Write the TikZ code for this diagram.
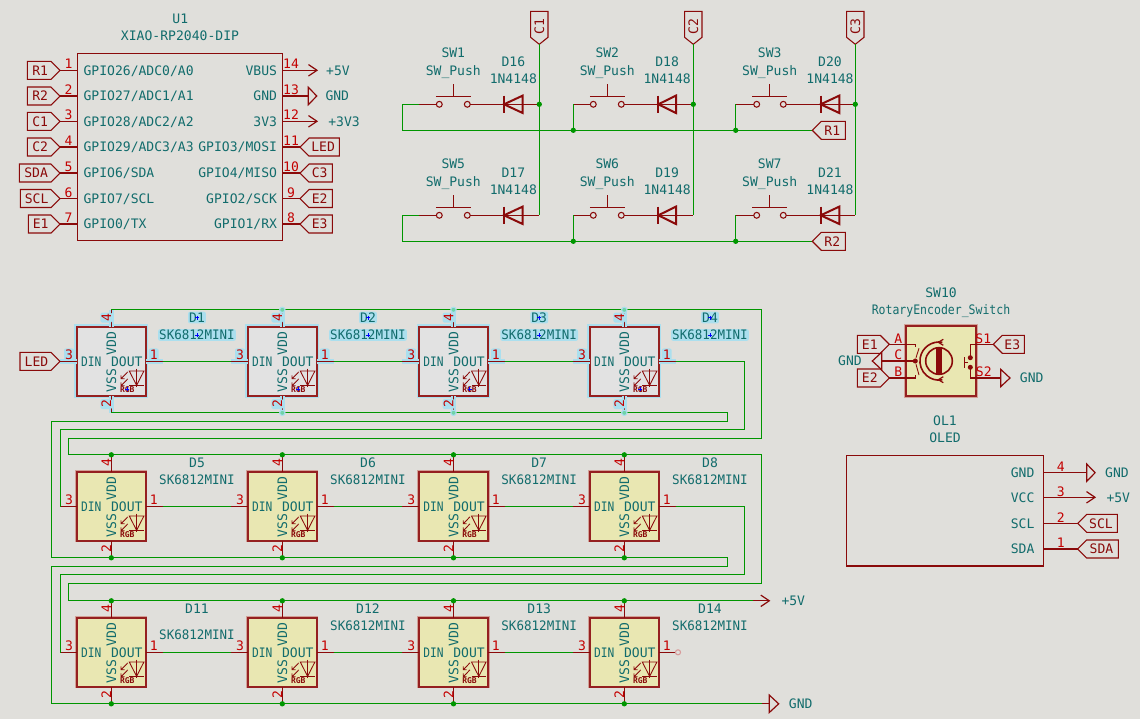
\documentclass[tikz,border=0pt]{standalone}
\usepackage{fontspec}
\setmainfont{DejaVu Sans Mono}
\usetikzlibrary{calc}
\definecolor{bgc}{HTML}{E0DFDB}
\definecolor{pinc}{HTML}{8A0A0A}
\definecolor{boxc}{HTML}{952020}
\definecolor{numc}{HTML}{C40000}
\definecolor{wirec}{HTML}{009600}
\definecolor{tealc}{HTML}{126C6C}
\definecolor{chipc}{HTML}{E9E7B2}
\definecolor{haloc}{HTML}{D2A096}
\definecolor{glowc}{HTML}{ABDFEE}
\definecolor{selc}{HTML}{E2E2E2}
\definecolor{seljc}{HTML}{6FD3A8}
\definecolor{openc}{HTML}{D89A9A}

\newcommand{\flagright}[4]{
	\draw[flag] (#2) -- ++(-9,-9) -- ++({9-#3},0) -- ++(0,18) -- ++({#3-9},0) -- cycle;
	\node[redtxt] (#1) at ($(#2)+({-(#3+9)/2+1},0)$) {#4};
}
\newcommand{\flagleft}[4]{
	\draw[flag] (#2) -- ++(9,-9) -- ++({#3-9},0) -- ++(0,18) -- ++({9-#3},0) -- cycle;
	\node[redtxt] (#1) at ($(#2)+({(#3+9)/2-1},0)$) {#4};
}
\newcommand{\flagdown}[3]{
	\draw[flag] (#2) -- ++(-8.7,-7) -- ++(0,-26) -- ++(17.4,0) -- ++(0,26) -- cycle;
	\node[redtxt,rotate=90] (#1) at ($(#2)+(0,-17.5)$) {#3};
}
\newcommand{\pwrarrow}[4]{
	\draw[pinline] ($(#2)+(-8.5,-5.7)$) -- (#2) -- ($(#2)+(-8.5,5.7)$);
	\node[tealtxt] (#1) at ($(#2)+(#4,0)$) {#3};
}
\newcommand{\pwrgnd}[5]{
	\draw[pinline] ($(#2)+(0,-8.7)$) -- ($(#2)+(#3,0)$) -- ($(#2)+(0,8.7)$) -- cycle;
	\node[tealtxt] (#1) at ($(#2)+(#5,0)$) {#4};
}
\newcommand{\junc}[1]{
	\fill[juncdot] (#1) circle (2pt);
}
\newcommand{\ledchip}[5]{
	\begin{scope}[shift={(#2,#3)}]
		\node[chipbox,minimum size=51.4pt] (#1) at (0,0) {};
		\coordinate (#1-din) at (-51.3,0);
		\coordinate (#1-dout) at (51.3,0);
		\coordinate (#1-vdd) at (0,-51.5);
		\coordinate (#1-vss) at (0,51.5);
		\draw[chippin] (#1-din) -- (#1.west);
		\draw[chippin] (#1-dout) -- (#1.east);
		\draw[chippin] (#1-vdd) -- (#1.north);
		\draw[chippin] (#1-vss) -- (#1.south);
		\node[tealtxt] (#1-t1) at (-20,0) {\scalebox{.86}[1]{DIN}};
		\node[tealtxt] (#1-t2) at (15.5,0) {DOUT};
		\node[tealtxt,rotate=90] (#1-t3) at (0,-17.5) {VDD};
		\node[tealtxt,rotate=90] (#1-t4) at (0,19.5) {VSS};
		\node[pinnum] (#1-n1) at (-42.3,-7) {3};
		\node[pinnum] (#1-n2) at (42.4,-7) {1};
		\node[pinnum,rotate=90] (#1-n3) at (-5,-43.7) {4};
		\node[pinnum,rotate=90] (#1-n4) at (-5,42.7) {2};
		\node[chiptxt] (#1-ref) at (85.7,-43.7) {#4};
		\node[chiptxt] (#1-val) at (85.7,#5) {\scalebox{.96}[1]{SK6812MINI}};
		\draw[ledline] (18,9.7) -- (32.6,9.7) -- (25.3,24) -- cycle;
		\draw[ledline] (18,24) -- (32.6,24) (25.3,7.3) -- (25.3,26);
		\draw[ledline] (16.5,10.5) -- (9.7,17.5) (9.7,14) -- (9.7,17.5) -- (13.2,17.5);
		\draw[ledline] (16.5,17.5) -- (9.7,24.5) (9.7,21) -- (9.7,24.5) -- (13.2,24.5);
		\node[rgbtxt] (#1-rgb) at (16,28) {RGB};
		\draw[anchormk] (14,28) -- (18,28) (16,26) -- (16,30);
		\draw[anchormk] (83.7,-43.7) -- (87.7,-43.7) (85.7,-45.7) -- (85.7,-41.7);
		\draw[anchormk] (83.7,#5) -- (87.7,#5) (85.7,#5-2) -- (85.7,#5+2);
	\end{scope}
}

\begin{document}
\begin{tikzpicture}[x=.75pt,y=-.75pt,
		tealtxt/.style={color=tealc,font=\fontsize{9.8}{10}\selectfont,inner sep=0pt,text height=7.2pt,text depth=0pt},
		chiptxt/.style={tealtxt},
		redtxt/.style={tealtxt,color=pinc},
		pinnum/.style={tealtxt,color=numc},
		rgbtxt/.style={color=pinc,font=\fontsize{6}{6}\selectfont\bfseries,inner sep=0pt,text height=4.4pt,text depth=0pt},
		flag/.style={draw=pinc,line width=.8pt},
		pinline/.style={draw=pinc,line width=.9pt},
		chippin/.style={pinline},
		wire/.style={draw=wirec,line width=1pt},
		juncdot/.style={fill=wirec},
		anchormk/.style={draw=none},
		devbox/.style={draw=pinc,line width=.9pt,inner sep=0pt,outer sep=0pt},
		chipbox/.style={draw=boxc,line width=1.6pt,fill=chipc,inner sep=0pt,outer sep=0pt,preaction={draw=haloc,line width=2.8pt}},
		ledline/.style={draw=pinc,line width=.65pt},
		swpad/.style={circle,draw=pinc,line width=.8pt,inner sep=0pt,outer sep=0pt,minimum size=4.4pt},
		plainrow/.style={},
		selrow/.style={
			chipbox/.append style={fill=selc,preaction={draw=glowc,line width=4pt}},
			chippin/.append style={preaction={draw=glowc,line width=3.6pt}},
			chiptxt/.append style={fill=glowc,rounded corners=1.5pt,inner sep=.8pt},
			pinnum/.append style={fill=glowc,rounded corners=1.5pt,inner sep=.8pt},
			anchormk/.style={draw=blue,line width=.6pt}},
	]
	\useasboundingbox[fill=bgc] (0,0) rectangle (1140,719);

	\node[tealtxt] (u1ref) at (180.3,19) {U1};
	\node[tealtxt] (u1val) at (180,36) {XIAO-RP2040-DIP};
	\node[devbox,minimum width=153.75pt,minimum height=140.4pt] (u1) at (180,147.1) {};
	\foreach \nr/\y/\txt/\sig/\w in {1/70.3/{GPIO26/ADC0/A0}/R1/32.7, 2/96/{GPIO27/ADC1/A1}/R2/32.7, 3/121.3/{GPIO28/ADC2/A2}/C1/32.7, 4/147/{GPIO29/ADC3/A3}/C2/32.7, 5/173/{GPIO6/SDA}/SDA/40.7, 6/198.5/{GPIO7/SCL}/SCL/39.7, 7/224/{GPIO0/TX}/E1/31.7} {
		\coordinate (u1p\nr) at (60,\y);
		\draw[pinline] (u1p\nr) -- (u1p\nr -| u1.west);
		\node[tealtxt,anchor=west] (u1t\nr) at (83.3,\y) {\txt};
		\node[pinnum] (u1n\nr) at (68.5,\y-6.3) {\nr};
		\flagright{u1f\nr}{u1p\nr}{\w}{\sig}
	}
	\foreach \nr/\y/\txt/\tip in {14/70.3/VBUS/317, 13/96/GND/308.3, 12/121.3/3V3/317, 11/147/{GPIO3/MOSI}/300, 10/173/{GPIO4/MISO}/300, 9/198.5/{GPIO2/SCK}/300, 8/224/{GPIO1/RX}/300} {
		\coordinate (u1p\nr) at (\tip,\y);
		\draw[pinline] (u1p\nr) -- (u1p\nr -| u1.east);
		\node[tealtxt,anchor=east] (u1t\nr) at (277.3,\y) {\txt};
		\node[pinnum] (u1n\nr) at (291,\y-6.3) {\nr};
	}
	\pwrarrow{u1vbus}{u1p14}{+5V}{21}
	\pwrgnd{u1gnd}{u1p13}{8.5}{GND}{29}
	\pwrarrow{u13v3}{u1p12}{+3V3}{27}
	\flagleft{u1f11}{u1p11}{39.3}{LED}
	\flagleft{u1f10}{u1p10}{32.3}{C3}
	\flagleft{u1f9}{u1p9}{32.3}{E2}
	\flagleft{u1f8}{u1p8}{32.3}{E3}

	\foreach \cl/\pa/\pb/\st/\bar/\bas/\rail/\wl/\sa/\sb/\da/\db in {1/439.3/467.3/453.3/504/522.7/539.3/419.3/1/5/16/17, 2/593.3/621.3/607.3/658.3/676/693.3/573.3/2/6/18/19, 3/756.7/783.3/769.7/820.7/839.3/855.3/735.7/3/7/20/21} {
		\foreach \sw/\dn/\y in {\sa/\da/104.3, \sb/\db/215.3} {
			\node[swpad] (sw\sw a) at (\pa,\y) {};
			\node[swpad] (sw\sw b) at (\pb,\y) {};
			\coordinate (sw\sw in) at (\wl,\y);
			\coordinate (d\dn out) at (\rail,\y);
			\coordinate (d\dn k) at (\bar,\y);
			\coordinate (d\dn a) at (\bas,\y);
			\coordinate (sw\sw top) at (\st,\y-20);
			\coordinate (sw\sw st) at (\st,\y-8);
			\draw[pinline] (sw\sw in) -- (sw\sw a);
			\draw[pinline] (sw\sw b) -- (d\dn out);
			\draw[pinline] (sw\sw top) -- (sw\sw st);
			\draw[pinline] ($(sw\sw st)+(-17.5,0)$) -- ($(sw\sw st)+(17.5,0)$);
			\draw[pinline,line width=1.5pt] ($(d\dn a)+(0,-8.7)$) -- (d\dn k) -- ($(d\dn a)+(0,8.7)$) -- cycle;
			\draw[pinline,line width=1.5pt] ($(d\dn k)+(0,-8.7)$) -- ($(d\dn k)+(0,8.7)$);
			\node[tealtxt] (sw\sw ref) at (\st,\y-51.3) {SW\sw};
			\node[tealtxt] (sw\sw val) at (\st,\y-33.8) {SW\_Push};
			\node[tealtxt] (d\dn ref) at ({(\bar+\bas)/2},\y-42.3) {D\dn};
			\node[tealtxt] (d\dn val) at ({(\bar+\bas)/2},\y-25.3) {1N4148};
		}
		\coordinate (c\cl tip) at (\rail,44.3);
		\flagdown{c\cl flag}{c\cl tip}{C\cl}
		\draw[wire] (c\cl tip) -- (d\db out);
		\junc{d\da out}
	}
	\foreach \rw/\si/\sj/\sk/\y in {1/1/2/3/130.3, 2/5/6/7/241.3} {
		\coordinate (r\rw tip) at (812.3,\y);
		\coordinate (r\rw left) at (402.3,\y);
		\draw[wire] (sw\si in) -| (r\rw left) -- (r\rw tip);
		\draw[wire] (sw\sj in) -- (sw\sj in |- r\rw tip);
		\draw[wire] (sw\sk in) -- (sw\sk in |- r\rw tip);
		\junc{sw\sj in |- r\rw tip}
		\junc{sw\sk in |- r\rw tip}
		\flagleft{r\rw flag}{r\rw tip}{33}{R\rw}
	}

	\foreach \rw/\cy/\kind/\first in {1/361.3/selrow/1, 2/506.3/plainrow/5, 3/652.3/plainrow/11} {
		\begin{scope}[\kind]
			\foreach \cl/\cx in {1/111.3, 2/282.3, 3/453.5, 4/624.3} {
				\pgfmathtruncatemacro{\refn}{\first+\cl-1}
				\pgfmathsetmacro{\vdy}{\refn==11 ? -18 : -26.3}
				\ledchip{L\rw\cl}{\cx}{\cy}{D\refn}{\vdy}
			}
		\end{scope}
		\foreach \cl/\nx in {1/2, 2/3, 3/4}
			\draw[wire] (L\rw\cl-dout) -- (L\rw\nx-din);
	}
	\coordinate (ledtip) at (L11-din);
	\flagright{ledflag}{ledtip}{40}{LED}
	\foreach \ra/\rb/\yv/\yg/\yd in {1/2/438.3/421.3/429.3, 2/3/583.3/566.7/574.3} {
		\coordinate (vddr\ra) at (761.3,\yv);
		\coordinate (vddl\ra) at (68.3,\yv);
		\draw[wire] (L\ra1-vdd) -- (L\ra4-vdd) -| (vddr\ra) -- (vddl\ra) |- (L\rb1-vdd);
		\coordinate (vssr\ra) at (727.3,\yg);
		\coordinate (vssl\ra) at (51.3,\yg);
		\draw[wire] (L\ra1-vss) -- (L\ra4-vss) -| (vssr\ra) -- (vssl\ra) |- (L\rb1-vss);
		\coordinate (datr\ra) at (744.3,\yd);
		\coordinate (datl\ra) at (60.3,\yd);
		\draw[wire] (L\ra4-dout) -| (datr\ra) -- (datl\ra) |- (L\rb1-din);
	}
	\coordinate (p5stub) at (753,600.8);
	\coordinate (p5tip) at (769.3,600.8);
	\coordinate (gstub) at (762,703.8);
	\coordinate (gbase) at (769.3,703.8);
	\draw[wire] (L31-vdd) -- (L34-vdd) -- (p5stub);
	\draw[wire] (L31-vss) -- (L34-vss) -- (gstub);
	\draw[pinline] (p5stub) -- (p5tip);
	\draw[pinline] (gstub) -- (gbase);
	\pwrarrow{ledvcc}{p5tip}{+5V}{24}
	\pwrgnd{ledgnd}{gbase}{9.4}{GND}{31.4}
	\draw[draw=openc,line width=.8pt] (L34-dout) ++(2.4,0) circle (1.9pt);
	\foreach \cl in {2,3,4} {
		\fill[draw=glowc,line width=.8pt,fill=seljc] (L1\cl-vdd) circle (2pt);
		\fill[draw=glowc,line width=.8pt,fill=seljc] (L1\cl-vss) circle (2pt);
	}
	\foreach \rw in {2,3} \foreach \cl in {1,2,3,4} {
		\junc{L\rw\cl-vdd}
		\junc{L\rw\cl-vss}
	}

	\node[tealtxt] (sw10ref) at (941,292.7) {SW10};
	\node[tealtxt] (sw10val) at (941,310) {\scalebox{.88}[1]{RotaryEncoder\_Switch}};
	\node[chipbox,minimum width=52.5pt,minimum height=52.3pt] (enc) at (941,360.85) {};
	\coordinate (enca) at (889.3,344.3);
	\coordinate (encb) at (889.3,378);
	\coordinate (encc) at (881.7,361);
	\coordinate (encs1) at (993.3,344.3);
	\coordinate (encs2) at (1000.7,378);
	\draw[pinline] (enca) -- (915.3,344.3) -- (915.3,347);
	\draw[pinline] (encb) -- (915.3,378) -- (915.3,375);
	\draw[pinline] (encc) -- (915.3,361);
	\fill[pinc] (915.3,361) circle (1.9pt);
	\draw[ledline] (919,348.3) -- (916,357.7) (916,364.3) -- (919,375);
	\draw[pinline,line width=1.2pt] (939,361) circle (10pt);
	\fill[pinc] (936.2,347.7) rectangle (941.8,374.3);
	\draw[pinline,line width=1.2pt] (942.3,342.3) arc[start angle=80,end angle=280,radius=14.3pt];
	\draw[pinline] (943.3,339.3) -- (938.3,342.3) -- (943.3,345.3);
	\draw[pinline] (943.3,376.7) -- (938.3,379.7) -- (943.3,382.7);
	\draw[pinline] (encs1) -- (970.3,344.3) -- (970.3,357.7);
	\draw[pinline] (encs2) -- (970.3,378) -- (970.3,367.3);
	\fill[pinc] (970.3,357.7) circle (1.9pt);
	\fill[pinc] (970.3,367.3) circle (1.9pt);
	\draw[pinline,line width=1.2pt] (964.5,357) -- (964.5,368) (964.5,362.4) -- (968,362.4);
	\node[redtxt,color=numc] (encta) at (898.3,338.3) {A};
	\node[redtxt,color=numc] (enctc) at (898.3,355) {C};
	\node[redtxt,color=numc] (enctb) at (898.3,371.7) {B};
	\node[redtxt,color=numc] (encts1) at (983.3,338.3) {S1};
	\node[redtxt,color=numc] (encts2) at (983.8,371.7) {S2};
	\flagright{encf1}{enca}{32}{E1}
	\flagright{encf2}{encb}{32}{E2}
	\flagleft{encf3}{encs1}{31}{E3}
	\pwrgnd{encg1}{encc}{-9.4}{GND}{-31.7}
	\pwrgnd{encg2}{encs2}{9.3}{GND}{31}

	\node[tealtxt] (ol1ref) at (945,421) {OL1};
	\node[tealtxt] (ol1val) at (945,437.7) {OLED};
	\node[devbox,minimum width=147.45pt,minimum height=82.7pt] (ol1) at (945,510.85) {};
	\foreach \nr/\y/\txt/\tip in {4/472.7/GND/1086.7, 3/497.3/VCC/1095, 2/523.3/SCL/1077.7, 1/549/SDA/1077.7} {
		\coordinate (ol1p\nr) at (\tip,\y);
		\draw[pinline] (ol1p\nr) -- (ol1p\nr -| ol1.east);
		\node[tealtxt,anchor=east] (ol1t\nr) at (1034.7,\y) {\txt};
		\node[pinnum] (ol1n\nr) at (1060.7,\y-6) {\nr};
	}
	\pwrgnd{ol1g}{ol1p4}{8.4}{GND}{30.3}
	\pwrarrow{ol1v}{ol1p3}{+5V}{23.3}
	\flagleft{ol1f2}{ol1p2}{39.6}{SCL}
	\flagleft{ol1f1}{ol1p1}{40.6}{SDA}
\end{tikzpicture}
\end{document}
